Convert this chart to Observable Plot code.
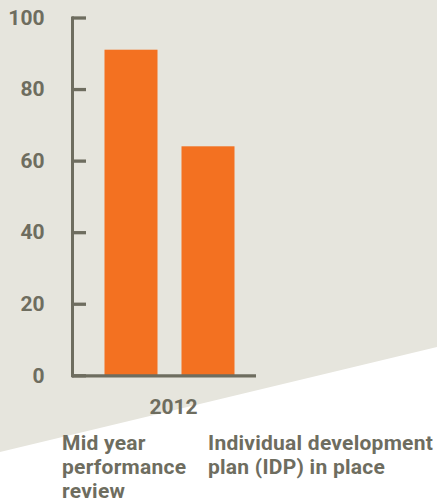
<!DOCTYPE html>
<html>
<head>
<meta charset="utf-8">
<script src="https://cdn.jsdelivr.net/npm/d3@7"></script>
<script src="https://cdn.jsdelivr.net/npm/@observablehq/plot@0.6"></script>
<style>
  html, body { margin: 0; padding: 0; background: #ffffff; }
  #wrap { position: relative; width: 437px; height: 504px; overflow: hidden; font-family: Roboto, "Noto Sans", sans-serif; }
  #bg { position: absolute; left: 0; top: 0; width: 437px; height: 504px; background: #e6e5dd;
        clip-path: polygon(0 0, 100% 0, 100% 347px, 0 452px); }
  #chart { position: relative; }
  #chart svg { display: block; background: transparent; }
  #legend { position: relative; height: 84px; margin-top: 11px; }
  #legend div { position: absolute; top: 0; font-size: 21px; font-weight: 700; line-height: 24px; letter-spacing: 0.25px; color: #6e6d5f; }
</style>
</head>
<body>
<div id="wrap">
  <div id="bg"></div>
  <div id="chart"></div>
  <div id="legend"></div>
</div>
<script>
const categories = ["Mid year performance review", "Individual development plan (IDP) in place"];
const values = [91, 64];
const year = "2012";
const yTicks = [0, 20, 40, 60, 80, 100];

const data = categories.map((c, i) => ({category: c, value: values[i], year}));

const ink = "#6e6d5f";
const orange = "#f37121";

const plot = Plot.plot({
  width: 437,
  height: 420,
  marginLeft: 71.5,
  marginRight: 181,
  marginTop: 17.5,
  marginBottom: 44.7,
  style: {background: "transparent", fontFamily: "Roboto, 'Noto Sans', sans-serif", color: ink},
  fx: {padding: 0, label: null},
  x: {domain: categories, paddingInner: 0.3117, paddingOuter: 0.3506, align: 0.593, axis: null},
  y: {domain: [0, 100], label: null},
  marks: [
    Plot.barY(data, {fx: "year", x: "category", y: "value", fill: orange}),
    Plot.tickY(yTicks, {y: d => d, stroke: ink, strokeWidth: 3.3, insetRight: 170}),
    Plot.ruleY([0], {stroke: ink, strokeWidth: 3.3}),
    Plot.frame({anchor: "left", stroke: ink, strokeWidth: 3}),
    Plot.axisY(yTicks, {tickSize: 0, tickPadding: 28, fontSize: 21, fontWeight: 700, fill: ink, label: null}),
    Plot.axisFx({anchor: "bottom", tickSize: 0, tickPadding: 23, dx: 9, fontSize: 21, fontWeight: 700, fill: ink, label: null})
  ]
});
document.getElementById("chart").appendChild(plot);

const legend = document.getElementById("legend");
const lefts = [62, 208];
const widths = [140, 229];
categories.forEach((c, i) => {
  const d = document.createElement("div");
  d.textContent = c;
  d.style.left = lefts[i] + "px";
  d.style.width = widths[i] + "px";
  legend.appendChild(d);
});
</script>
</body>
</html>
